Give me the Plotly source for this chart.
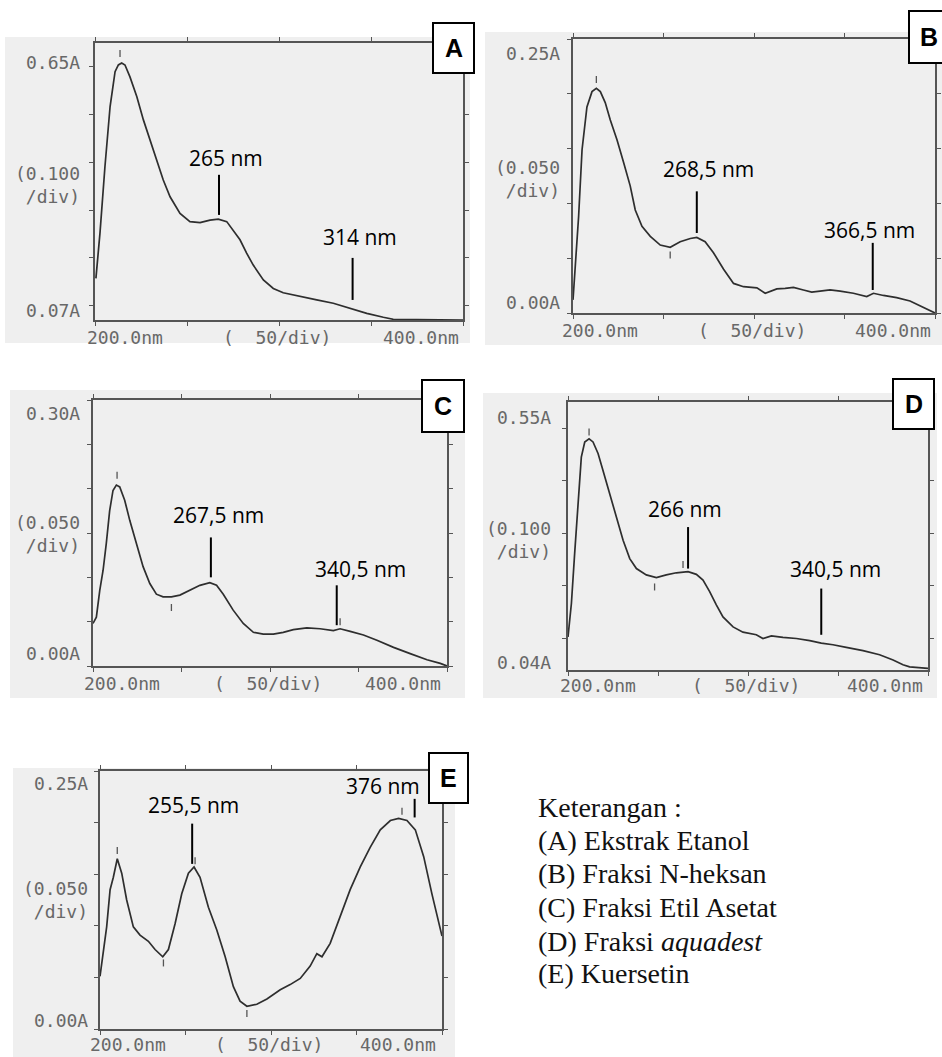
import plotly.graph_objects as go

W, H = 942, 1057

# ---------------- data (wavelength nm, absorbance A) ----------------
A_nm = [200.5, 202.7, 205.4, 208.2, 210.9, 212.7, 214.5, 216.3, 219.0, 222.7, 226.3, 229.9,
        233.5, 237.1, 240.8, 246.2, 251.6, 257.1, 262.5, 267.0, 271.6, 275.2, 278.8, 282.4,
        286.0, 291.5, 296.9, 302.3, 311.4, 320.5, 329.5, 338.6, 347.7, 356.7, 362.1, 400.0]
A_abs = [0.157, 0.252, 0.391, 0.517, 0.590, 0.604, 0.608, 0.604, 0.579, 0.538, 0.489, 0.447,
         0.405, 0.363, 0.328, 0.293, 0.276, 0.274, 0.279, 0.281, 0.276, 0.258, 0.238, 0.210,
         0.185, 0.154, 0.136, 0.127, 0.119, 0.112, 0.105, 0.0945, 0.084, 0.0757, 0.0715, 0.070]

B_nm = [200.0, 201.3, 203.1, 205.0, 207.7, 210.5, 212.9, 215.1, 217.8, 220.6, 224.3, 228.0,
        231.6, 234.4, 238.1, 242.7, 248.2, 253.7, 259.2, 264.8, 268.4, 273.0, 277.6, 283.2,
        288.7, 294.2, 301.6, 306.2, 308.9, 312.6, 317.2, 321.8, 327.3, 331.9, 336.5, 342.0,
        347.6, 354.9, 362.3, 366.0, 371.5, 378.8, 386.2, 393.6, 400.0]
B_abs = [0.012, 0.043, 0.088, 0.149, 0.188, 0.202, 0.205, 0.202, 0.192, 0.176, 0.158, 0.137,
         0.116, 0.094, 0.079, 0.070, 0.062, 0.060, 0.065, 0.068, 0.069, 0.065, 0.055, 0.040,
         0.027, 0.024, 0.023, 0.018, 0.020, 0.022, 0.0225, 0.0234, 0.021, 0.019, 0.020, 0.021,
         0.020, 0.018, 0.015, 0.018, 0.016, 0.014, 0.011, 0.005, 0.000]

C_nm = [200.0, 201.9, 203.8, 205.7, 207.5, 209.4, 211.3, 213.2, 215.1, 217.9, 220.8, 224.5,
        228.3, 232.1, 235.8, 239.6, 244.3, 249.1, 254.7, 260.4, 266.0, 269.8, 273.6, 279.2,
        284.9, 290.6, 296.2, 301.9, 307.5, 313.2, 320.8, 328.3, 335.8, 339.6, 345.3, 352.8,
        360.4, 369.8, 379.2, 388.7, 396.2, 400.0]
C_abs = [0.048, 0.055, 0.085, 0.108, 0.138, 0.175, 0.198, 0.204, 0.202, 0.187, 0.164, 0.138,
         0.112, 0.093, 0.081, 0.078, 0.078, 0.080, 0.085, 0.091, 0.094, 0.091, 0.081, 0.063,
         0.048, 0.038, 0.036, 0.036, 0.038, 0.041, 0.043, 0.042, 0.040, 0.042, 0.039, 0.035,
         0.029, 0.021, 0.014, 0.007, 0.003, 0.000]

D_nm = [200.0, 201.9, 203.7, 205.6, 207.4, 209.3, 211.7, 213.9, 216.7, 219.4, 223.1, 226.9,
        230.6, 234.3, 238.0, 243.5, 249.1, 254.6, 260.2, 266.7, 271.3, 275.0, 278.7, 282.4,
        286.1, 291.7, 297.2, 304.6, 308.3, 313.0, 319.4, 326.9, 334.3, 340.7, 347.2, 354.6,
        363.9, 373.1, 380.6, 386.1, 389.8, 400.0]
D_abs = [0.103, 0.167, 0.262, 0.357, 0.445, 0.474, 0.480, 0.474, 0.452, 0.420, 0.376, 0.331,
         0.287, 0.252, 0.233, 0.221, 0.216, 0.221, 0.225, 0.227, 0.222, 0.211, 0.189, 0.164,
         0.141, 0.122, 0.112, 0.107, 0.100, 0.105, 0.102, 0.100, 0.096, 0.091, 0.088, 0.083,
         0.077, 0.069, 0.059, 0.050, 0.046, 0.043]

E_nm = [200.0, 202.0, 203.9, 205.9, 207.8, 210.1, 212.7, 215.6, 219.5, 223.4, 228.3, 232.2,
        236.7, 240.0, 243.9, 247.8, 251.7, 255.0, 258.5, 263.4, 268.3, 273.2, 278.0, 281.9,
        285.9, 291.7, 297.6, 305.4, 311.2, 317.1, 322.9, 326.8, 329.8, 334.6, 340.5, 346.3,
        352.2, 358.0, 363.9, 369.8, 374.6, 379.5, 384.4, 389.3, 394.1, 398.0, 400.0]
E_abs = [0.051, 0.077, 0.099, 0.135, 0.147, 0.165, 0.151, 0.125, 0.099, 0.091, 0.085, 0.077,
         0.070, 0.077, 0.102, 0.131, 0.151, 0.157, 0.147, 0.118, 0.096, 0.070, 0.041, 0.027,
         0.022, 0.024, 0.029, 0.038, 0.043, 0.049, 0.061, 0.073, 0.070, 0.083, 0.109, 0.135,
         0.157, 0.176, 0.193, 0.202, 0.204, 0.202, 0.193, 0.167, 0.131, 0.102, 0.090]

# instrument peak/valley tick marks
A_pk_nm, A_pk_abs = [213.6], [0.628]
B_pk_nm, B_pk_abs = [212.9, 253.7], [0.213, 0.053]
C_pk_nm, C_pk_abs = [213.6, 244.3, 339.6], [0.215, 0.066, 0.050]
D_pk_nm, D_pk_abs = [211.7, 248.1, 263.9], [0.493, 0.198, 0.241]
E_pk_nm, E_pk_abs = [210.1, 237.1, 255.6, 285.9, 376.6], [0.173, 0.064, 0.163, 0.015, 0.211]

# annotated wavelengths: label text, marker x (nm), marker y0, y1, text x, text y
A_marks = [("265 nm", 267.4, 0.290, 0.374, 271.2, 0.409), ("314 nm", 340.0, 0.112, 0.200, 344.0, 0.244)]
B_marks = [("268,5 nm", 268.4, 0.073, 0.111, 275.0, 0.131), ("366,5 nm", 365.6, 0.021, 0.064, 364.0, 0.076)]
C_marks = [("267,5 nm", 266.6, 0.100, 0.145, 270.8, 0.170), ("340,5 nm", 337.7, 0.046, 0.091, 351.0, 0.109)]
D_marks = [("266 nm", 266.7, 0.233, 0.312, 264.8, 0.347), ("340,5 nm", 340.7, 0.107, 0.195, 348.7, 0.232)]
E_marks = [("255,5 nm", 253.9, 0.160, 0.199, 254.6, 0.217), ("376 nm", 384.0, 0.205, 0.223, 365.5, 0.235)]

legend_lines = ["Keterangan :", "(A) Ekstrak Etanol", "(B) Fraksi N-heksan",
                "(C) Fraksi Etil Asetat", "(D) Fraksi <i>aquadest</i>", "(E) Kuersetin"]

# ---------------- layout of panels (pixels) ----------------
panels = [
    dict(key="A", nm=A_nm, ab=A_abs, pk=(A_pk_nm, A_pk_abs), marks=A_marks,
         frame=(95, 463, 43, 320), yr=(0.07, 0.65), div=0.100,
         ylab=("0.65A", "(0.100<br>/div)", "0.07A"), ylx=82, yly=(62, 185, 310),
         xly=337, xl=(85, 461), box=(433, 474, 23, 73), bg=(5, 470, 37, 343)),
    dict(key="B", nm=B_nm, ab=B_abs, pk=(B_pk_nm, B_pk_abs), marks=B_marks,
         frame=(573, 935, 39, 313), yr=(0.00, 0.25), div=0.050,
         ylab=("0.25A", "(0.050<br>/div)", "0.00A"), ylx=562, yly=(53, 179, 302),
         xly=330, xl=(560, 933), box=(909, 950, 11, 63), bg=(485, 942, 32, 345)),
    dict(key="C", nm=C_nm, ab=C_abs, pk=(C_pk_nm, C_pk_abs), marks=C_marks,
         frame=(93, 447, 400, 666), yr=(0.00, 0.30), div=0.050,
         ylab=("0.30A", "(0.050<br>/div)", "0.00A"), ylx=82, yly=(413, 534, 653),
         xly=683, xl=(82, 443), box=(422, 464, 380, 432), bg=(10, 465, 390, 698)),
    dict(key="D", nm=D_nm, ab=D_abs, pk=(D_pk_nm, D_pk_abs), marks=D_marks,
         frame=(568, 928, 402, 670), yr=(0.04, 0.55), div=0.100,
         ylab=("0.55A", "(0.100<br>/div)", "0.04A"), ylx=553, yly=(417, 540, 662),
         xly=685, xl=(558, 925), box=(893, 934, 379, 429), bg=(483, 937, 393, 698)),
    dict(key="E", nm=E_nm, ab=E_abs, pk=(E_pk_nm, E_pk_abs), marks=E_marks,
         frame=(100, 442, 771, 1029), yr=(0.00, 0.25), div=0.050,
         ylab=("0.25A", "(0.050<br>/div)", "0.00A"), ylx=90, yly=(783, 900, 1020),
         xly=1044, xl=(88, 438), box=(429, 468, 753, 803), bg=(13, 455, 768, 1057)),
]


def px(x):
    return x / W


def py(y):
    return 1 - y / H


MONO = dict(family="DejaVu Sans Mono", size=18, color="#686868")
fig = go.Figure()
shapes, annos = [], []
layout_axes = {}

for i, p in enumerate(panels):
    n = i + 1
    sfx = "" if n == 1 else str(n)
    xa, ya = "x" + sfx, "y" + sfx
    L, R, T, B = p["frame"]

    # background scan area
    bx0, bx1, by0, by1 = p["bg"]
    shapes.append(dict(type="rect", xref="paper", yref="paper", x0=px(bx0), x1=px(bx1),
                       y0=py(by1), y1=py(by0), fillcolor="#efefef", line=dict(width=0),
                       layer="below"))

    fig.add_trace(go.Scatter(x=p["nm"], y=p["ab"], mode="lines",
                             line=dict(color="#2e2e2e", width=1.7),
                             xaxis=xa, yaxis=ya, showlegend=False, hoverinfo="skip"))
    fig.add_trace(go.Scatter(x=p["pk"][0], y=p["pk"][1], mode="markers",
                             marker=dict(symbol="line-ns", size=5,
                                         line=dict(color="#555", width=1.3)),
                             xaxis=xa, yaxis=ya, showlegend=False, hoverinfo="skip"))

    common = dict(showgrid=False, zeroline=False, showticklabels=False, ticks="outside",
                  ticklen=4, tickwidth=1.3, tickcolor="#555", showline=True, mirror="ticks",
                  linecolor="#555", linewidth=1.6, fixedrange=True)
    layout_axes["xaxis" + sfx] = dict(domain=[px(L), px(R)], range=[200, 400], anchor=ya,
                                      tick0=200, dtick=50, **common)
    layout_axes["yaxis" + sfx] = dict(domain=[py(B), py(T)], range=list(p["yr"]), anchor=xa,
                                      tick0=0, dtick=p["div"], **common)

    # y labels
    for txt, yy in zip(p["ylab"], p["yly"]):
        annos.append(dict(xref="paper", yref="paper", x=px(p["ylx"]), y=py(yy), text=txt,
                          showarrow=False, xanchor="right", yanchor="middle", align="right",
                          font=MONO))
    # x labels
    annos.append(dict(xref="paper", yref="paper", x=px(p["xl"][0]), y=py(p["xly"]),
                      text="200.0nm", showarrow=False, xanchor="left", yanchor="middle",
                      font=MONO))
    annos.append(dict(xref="paper", yref="paper", x=px((L + R) / 2 - 2), y=py(p["xly"]),
                      text="(\u00a0\u00a050/div)", showarrow=False, xanchor="center",
                      yanchor="middle", font=MONO))
    annos.append(dict(xref="paper", yref="paper", x=px(p["xl"][1]), y=py(p["xly"]),
                      text="400.0nm", showarrow=False, xanchor="right", yanchor="middle",
                      font=MONO))

    # wavelength markers
    for lab, mx, my0, my1, tx, ty in p["marks"]:
        shapes.append(dict(type="line", xref=xa, yref=ya, x0=mx, x1=mx, y0=my0, y1=my1,
                           line=dict(color="black", width=2)))
        annos.append(dict(xref=xa, yref=ya, x=tx, y=ty, text=lab, showarrow=False,
                          xanchor="center", yanchor="middle",
                          font=dict(family="Open Sans", size=21, color="black")))

    # panel letter box
    qx0, qx1, qy0, qy1 = p["box"]
    shapes.append(dict(type="rect", xref="paper", yref="paper", x0=px(qx0), x1=px(qx1),
                       y0=py(qy1), y1=py(qy0), fillcolor="white",
                       line=dict(color="black", width=2), layer="above"))
    annos.append(dict(xref="paper", yref="paper", x=px((qx0 + qx1) / 2 if p["key"] != "B" else 929),
                      y=py((qy0 + qy1) / 2), text="<b>%s</b>" % p["key"], showarrow=False,
                      xanchor="center", yanchor="middle",
                      font=dict(family="Liberation Sans", size=25, color="black")))

# legend text
leg_y = [807, 840, 873, 907, 941, 973]
for txt, yy in zip(legend_lines, leg_y):
    annos.append(dict(xref="paper", yref="paper", x=px(536), y=py(yy), text=txt,
                      showarrow=False, xanchor="left", yanchor="middle",
                      font=dict(family="Liberation Serif", size=28, color="#111")))

fig.update_layout(width=W, height=H, margin=dict(l=0, r=0, t=0, b=0),
                  paper_bgcolor="white", plot_bgcolor="rgba(0,0,0,0)",
                  shapes=shapes, annotations=annos, **layout_axes)

fig.write_html("out.html", config={"displayModeBar": False},
               post_script="document.body.style.margin='0px';document.body.style.overflow='hidden';")
